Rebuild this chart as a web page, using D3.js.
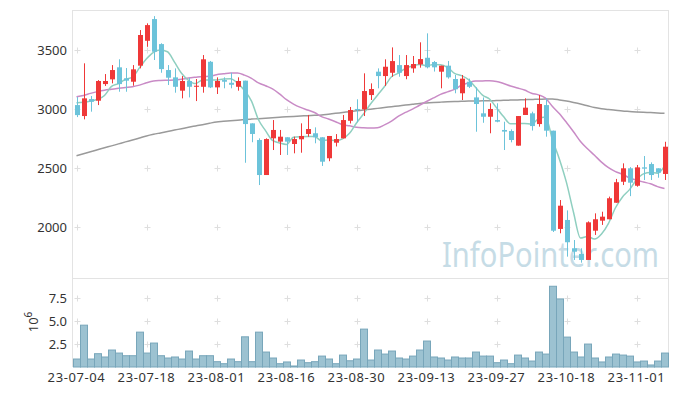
<!DOCTYPE html>
<html>
<head>
<meta charset="utf-8">
<script src="https://cdn.jsdelivr.net/npm/d3@7"></script>
<style>
  body { margin: 0; background: #fff; }
  text { font-family: "Noto Sans", "DejaVu Sans", sans-serif; }
</style>
</head>
<body>
<div id="chart"></div>
<script>
// trading days (yy-mm-dd)
var dates = ["23-07-04","23-07-05","23-07-06","23-07-07","23-07-10","23-07-11","23-07-12","23-07-13","23-07-14","23-07-17",
  "23-07-18","23-07-19","23-07-20","23-07-21","23-07-24","23-07-25","23-07-26","23-07-27","23-07-28","23-07-31",
  "23-08-01","23-08-02","23-08-03","23-08-04","23-08-07","23-08-08","23-08-09","23-08-10","23-08-11","23-08-14",
  "23-08-16","23-08-17","23-08-18","23-08-21","23-08-22","23-08-23","23-08-24","23-08-25","23-08-28","23-08-29",
  "23-08-30","23-08-31","23-09-01","23-09-04","23-09-05","23-09-06","23-09-07","23-09-08","23-09-11","23-09-12",
  "23-09-13","23-09-14","23-09-15","23-09-18","23-09-19","23-09-20","23-09-21","23-09-22","23-09-25","23-09-26",
  "23-09-27","23-10-04","23-10-05","23-10-06","23-10-10","23-10-11","23-10-12","23-10-13","23-10-16","23-10-17",
  "23-10-18","23-10-19","23-10-20","23-10-23","23-10-24","23-10-25","23-10-26","23-10-27","23-10-30","23-10-31",
  "23-11-01","23-11-02","23-11-03","23-11-06","23-11-07"];

var open  = [3036,2943,3087,3073,3214,3254,3356,3263,3234,3370, 3581,3765,3553,3333,3271,3158,3240,3191,3191,3403,
             3186,3248,3225,3191,3243,2881,2740,2443,2754,2726, 2763,2706,2746,2791,2797,2763,2585,2717,2754,2903,
             3003,3000,3121,3319,3282,3310,3375,3282,3347,3381, 3437,3401,3319,3370,3257,3136,3234,3101,2966,2937,
             2909,2825,2816,2692,2952,2966,2875,3036,2819,1986, 2062,1822,1774,1723,1971,2056,2068,2208,2386,2500,
             2352,2508,2536,2500,2452];
var high  = [3104,3390,3113,3248,3299,3375,3424,3350,3375,3672, 3729,3790,3560,3375,3347,3282,3268,3257,3460,3410,
             3271,3271,3310,3271,3243,2881,2754,2754,2909,2825, 2763,2768,2881,2952,2847,2763,2774,2790,2952,3020,
             3085,3305,3220,3347,3424,3525,3460,3460,3452,3568, 3644,3410,3370,3410,3291,3291,3260,3186,3101,3051,
             3051,2895,2830,2943,3093,2980,3121,3093,2819,2231, 2143,1892,1822,2050,2118,2132,2260,2410,2542,2510,
             2528,2604,2550,2500,2725];
var low   = [2934,2915,2980,3036,3198,3220,3149,3149,3200,3347, 3530,3418,3310,3206,3141,3093,3101,3070,3141,3180,
             3130,3178,3178,3158,2547,2721,2358,2443,2655,2613, 2613,2627,2632,2768,2712,2520,2560,2685,2754,2880,
             2890,2943,3079,3178,3198,3276,3276,3255,3310,3353, 3347,3320,3178,3260,3136,3079,3180,2810,2886,2797,
             2890,2655,2720,2692,2952,2820,2853,2768,1960,1949, 1751,1723,1700,1723,1935,2020,2068,2208,2358,2264,
             2344,2401,2401,2420,2401];
var close = [2951,3093,3064,3240,3240,3333,3214,3243,3339,3630, 3714,3488,3341,3268,3191,3240,3191,3200,3424,3186,
             3240,3234,3208,3240,2875,2791,2443,2748,2825,2768, 2726,2748,2774,2833,2763,2556,2774,2748,2909,2994,
             2994,3155,3172,3282,3361,3409,3310,3375,3384,3426, 3356,3356,3370,3271,3170,3260,3191,3045,2937,3003,
             2895,2811,2740,2943,3014,2858,3045,2819,1971,2183, 1873,1793,1723,2042,2068,2090,2246,2382,2500,2378,
             2508,2497,2443,2463,2683];
// volume, millions of shares
var volume = [0.87,4.56,0.87,1.45,1.09,1.85,1.52,1.23,1.23,3.80, 1.52,2.61,1.23,0.98,1.09,0.87,1.74,0.87,1.23,1.23,
              0.58,0.36,0.87,0.58,3.29,0.58,3.80,1.63,0.98,0.36, 0.55,0.11,0.76,0.47,0.58,1.19,0.87,0.36,1.30,0.68,
              0.87,4.13,0.76,1.85,1.41,1.74,0.98,0.87,1.19,1.85, 2.83,1.09,0.98,0.76,1.09,0.98,0.98,1.63,1.19,1.19,
              0.47,0.76,0.36,1.30,0.98,0.65,1.63,1.41,8.80,7.42, 3.26,1.63,1.09,2.50,0.98,0.55,1.09,1.41,1.30,1.19,
              0.55,0.65,0.22,0.65,1.52];
// moving-average values before a full window exists
var ma5Head  = [3056,3059,3070,3085];
var ma20Head = [3107,3118,3135,3150,3162,3170,3178,3185,3192,3205,3225,3240,3244,3246,3248,3255,3265,3272,3278];
// long moving average
var maLong = [2607,2624,2640,2657,2674,2690,2707,2724,2740,2757,2774,2788,
              2800,2812,2824,2836,2848,2859,2870,2882,2893,
              2898,2903,2908,2913,2917,2921,2925,2929,2933,2937,2940,2943,2946,2949,2952,
              2959,2966,2973,2980,2987,2994,3001,3008,3015,3022,3029,3036,3043,3050,
              3054,3058,3061,3064,3066,3068,3070,3071,3072,3073,3074,3076,3078,3080,3082,3084,3085,3087,3088,
              3080,3070,3058,3045,3030,3015,3005,2998,2992,2986,2982,2978,2975,2972,2969,2966];
var priceTicks = [2000, 2500, 3000, 3500];
var volTicks = [2.5, 5.0, 7.5];
var xTickEvery = 10;

(function () {
function movingAvg(n, head) {
  return close.map(function (c, i) {
    if (i < n - 1) return head[i];
    return d3.mean(close.slice(i - n + 1, i + 1));
  });
}
var ma5 = movingAvg(5, ma5Head);
var ma20 = movingAvg(20, ma20Head);

var W = 677, H = 396;
var left = 73, right = 668, mTop = 10, sep = 278, bottom = 367;

var svg = d3.select("#chart").append("svg")
    .attr("width", W)
    .attr("height", H);

var x = d3.scaleBand().domain(dates).range([left, right]).padding(0);
var y = d3.scaleLinear().domain([1570, 3842]).range([sep, mTop]);
var yv = d3.scaleLinear().domain([0, 9.7]).range([bottom, sep]);
var cx = function (d) { return x(d) + x.bandwidth() / 2; };

var xTicks = dates.filter(function (d, i) { return i % xTickEvery === 0; });

// frame
var frame = svg.append("g").attr("stroke", "#e3e3e3").attr("stroke-width", 1);
frame.append("line").attr("x1", left - 0.5).attr("x2", left - 0.5).attr("y1", mTop).attr("y2", bottom);
frame.append("line").attr("x1", right + 0.5).attr("x2", right + 0.5).attr("y1", mTop).attr("y2", bottom);
frame.append("line").attr("x1", left).attr("x2", right).attr("y1", mTop + 0.5).attr("y2", mTop + 0.5);
frame.append("line").attr("x1", left).attr("x2", right).attr("y1", sep + 0.5).attr("y2", sep + 0.5);

// grid crosses
var crossY = priceTicks.map(y).concat(volTicks.map(yv));
var cross = svg.append("g").attr("stroke", "#dedede").attr("stroke-width", 1);
xTicks.forEach(function (d) {
  crossY.forEach(function (yy) {
    var px = Math.round(cx(d)) + 0.5, py = Math.round(yy) + 0.5;
    cross.append("line").attr("x1", px - 3).attr("x2", px + 3).attr("y1", py).attr("y2", py);
    cross.append("line").attr("x1", px).attr("x2", px).attr("y1", py - 3).attr("y2", py + 3);
  });
});

// watermark
svg.append("text")
    .attr("x", 442).attr("y", 267)
    .attr("fill", "#c6dce6")
    .attr("textLength", 217)
    .attr("lengthAdjust", "spacingAndGlyphs")
    .style("font-size", "35px")
    .text("InfoPointer.com");

// moving averages
function drawLine(vals, color, width) {
  svg.append("path")
      .datum(vals)
      .attr("fill", "none")
      .attr("stroke", color)
      .attr("stroke-width", width)
      .attr("d", d3.line()
          .x(function (d, i) { return cx(dates[i]); })
          .y(function (d) { return y(d); })
          .curve(d3.curveMonotoneX));
}
drawLine(maLong, "#9a9a9a", 1.5);
drawLine(ma20, "#c98bc6", 1.5);
drawLine(ma5, "#8fcfc0", 1.5);

// candles
var up = "#ef3838", down = "#6cc3da";
var idx = d3.range(dates.length);
var candles = svg.append("g").selectAll("g").data(idx).join("g");
candles.append("line")
    .attr("x1", function (i) { return Math.round(cx(dates[i])) + 0.5; })
    .attr("x2", function (i) { return Math.round(cx(dates[i])) + 0.5; })
    .attr("y1", function (i) { return y(high[i]); })
    .attr("y2", function (i) { return y(low[i]); })
    .attr("stroke", function (i) { return close[i] >= open[i] ? up : down; });
candles.append("rect")
    .attr("x", function (i) { return Math.round(cx(dates[i])) - 2; })
    .attr("width", 5)
    .attr("y", function (i) { return y(Math.max(open[i], close[i])); })
    .attr("height", function (i) { return Math.max(1, Math.abs(y(open[i]) - y(close[i]))); })
    .attr("fill", function (i) { return close[i] >= open[i] ? up : down; });

// volume
svg.append("g").selectAll("rect").data(idx).join("rect")
    .attr("x", function (i) { return x(dates[i]) + 0.5; })
    .attr("width", x.bandwidth())
    .attr("y", function (i) { return yv(volume[i]); })
    .attr("height", function (i) { return bottom - yv(volume[i]); })
    .attr("fill", "#9cc2d1")
    .attr("stroke", "#78a6ba")
    .attr("stroke-width", 1);

// axis labels
var lab = svg.append("g").attr("fill", "#333").style("font-size", "13px");
lab.selectAll(".py").data(priceTicks).join("text")
    .attr("x", 67).attr("y", function (d) { return y(d) + 4.5; })
    .attr("text-anchor", "end")
    .text(function (d) { return d; });
lab.selectAll(".vy").data(volTicks).join("text")
    .attr("x", 67).attr("y", function (d) { return yv(d) + 4.5; })
    .attr("text-anchor", "end")
    .text(function (d) { return d3.format(".1f")(d); });
lab.selectAll(".xt").data(xTicks).join("text")
    .attr("x", function (d) { return cx(d); })
    .attr("y", 382)
    .attr("text-anchor", "middle")
    .style("letter-spacing", "0.6px")
    .text(function (d) { return d; });

var unit = lab.append("text")
    .attr("transform", "translate(38,322) rotate(-90)")
    .attr("text-anchor", "middle");
unit.append("tspan").text("10");
unit.append("tspan").attr("dy", -6).style("font-size", "10px").text("6");
})();
</script>
</body>
</html>
